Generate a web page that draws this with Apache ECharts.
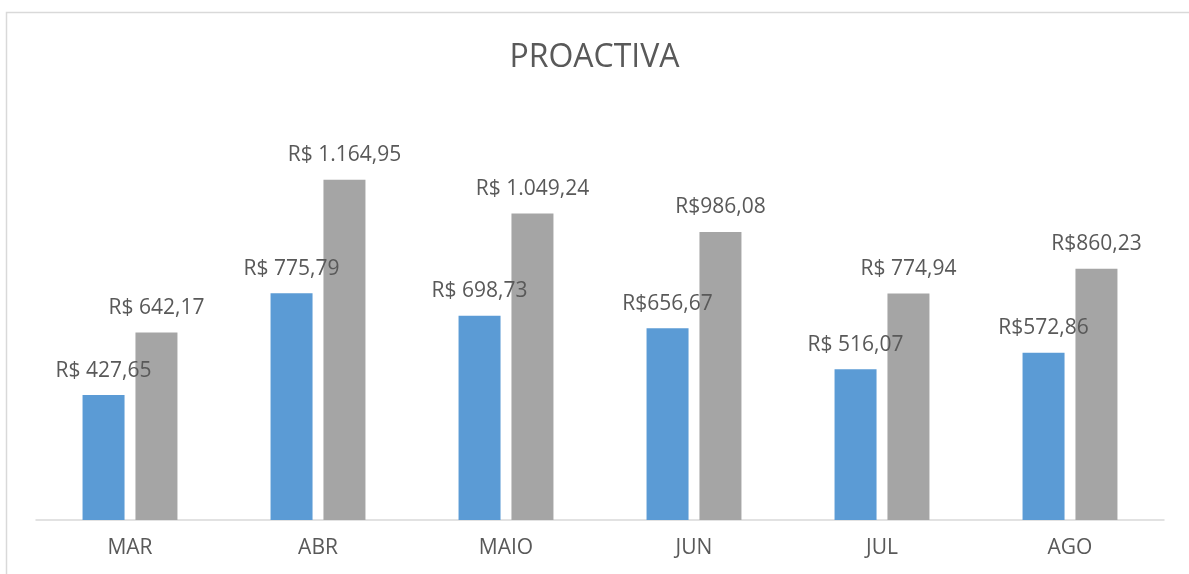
<!DOCTYPE html>
<html>
<head>
<meta charset="utf-8">
<script src="https://cdn.jsdelivr.net/npm/echarts@6/dist/echarts.min.js"></script>
<style>
  html, body { margin: 0; padding: 0; background: #fff; }
  #main { width: 1189px; height: 574px; }
</style>
</head>
<body>
<div id="main"></div>
<script>
var meses = ['MAR', 'ABR', 'MAIO', 'JUN', 'JUL', 'AGO']
var azul = [427.65, 775.79, 698.73, 656.67, 516.07, 572.86]
var cinza = [642.17, 1164.95, 1049.24, 986.08, 774.94, 860.23]
var rotulosAzul = ['R$ 427,65', 'R$ 775,79', 'R$ 698,73', 'R$656,67', 'R$ 516,07', 'R$572,86']
var rotulosCinza = ['R$ 642,17', 'R$ 1.164,95', 'R$ 1.049,24', 'R$986,08', 'R$ 774,94', 'R$860,23']

var fonte = '"Open Sans", sans-serif'

function rotulo(textos) {
    return {
        show: true,
        position: 'top',
        distance: 14,
        color: '#595959',
        fontFamily: fonte,
        fontSize: 21,
        formatter: function (p) { return textos[p.dataIndex] }
    }
}

var myChart = echarts.init(document.getElementById('main'))
myChart.setOption({
    animation: false,
    title: {
        text: 'PROACTIVA',
        left: 'center',
        top: 37,
        textStyle: { color: '#595959', fontFamily: fonte, fontSize: 32, fontWeight: 'normal' }
    },
    graphic: [{
        type: 'rect',
        shape: { x: 6.5, y: 12.5, width: 1200, height: 600 },
        style: { fill: null, stroke: '#d9d9d9', lineWidth: 1.5 },
        silent: true
    }],
    grid: { left: 36, right: 25, top: 111, bottom: 54 },
    xAxis: {
        type: 'category',
        data: meses,
        axisLine: { lineStyle: { color: '#d9d9d9', width: 1.5 } },
        axisTick: { show: false },
        axisLabel: { color: '#595959', fontFamily: fonte, fontSize: 21, margin: 18 }
    },
    yAxis: {
        type: 'value',
        min: 0,
        max: 1400,
        show: false,
        splitLine: { show: false }
    },
    series: [
        {
            type: 'bar',
            data: azul,
            barWidth: 42,
            barGap: '26%',
            itemStyle: { color: '#5b9bd5' },
            label: rotulo(rotulosAzul)
        },
        {
            type: 'bar',
            data: cinza,
            barWidth: 42,
            itemStyle: { color: '#a5a5a5' },
            label: rotulo(rotulosCinza)
        }
    ]
})
</script>
</body>
</html>
